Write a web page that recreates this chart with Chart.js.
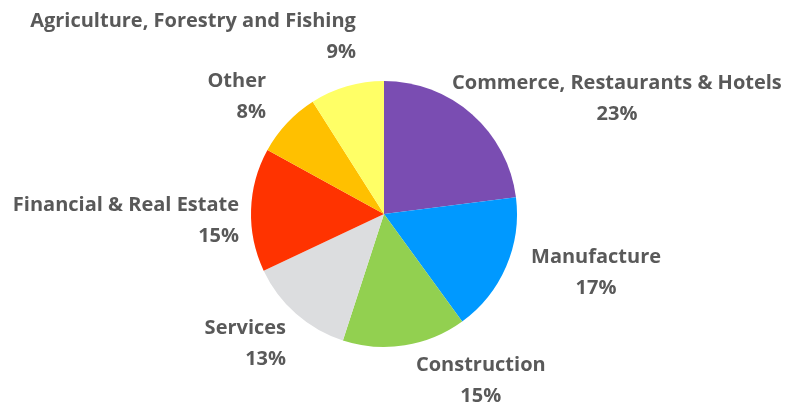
<!DOCTYPE html>
<html>
<head>
<meta charset="utf-8">
<script src="https://cdn.jsdelivr.net/npm/chart.js@4"></script>
<style>
  html, body { margin: 0; padding: 0; background: #fff; }
  #myChart { display: block; }
</style>
</head>
<body>
<canvas id="myChart" width="786" height="405"></canvas>
<script>
var categories = ['Commerce, Restaurants & Hotels', 'Manufacture', 'Construction', 'Services',
                  'Financial & Real Estate', 'Other', 'Agriculture, Forestry and Fishing'];
var shares = [23, 17, 15, 13, 15, 8, 9];
var colors = ['#7A4DB2', '#0099FF', '#92D050', '#DCDDDF', '#FF3300', '#FFC000', '#FFFF66'];

// label placement relative to the outer middle point of each slice
var labelOffsets = [[145, -25], [90, -4], [76, 26], [-10, 20], [-12, 1], [-21, -36], [9, -59]];

var outsideLabels = {
    id: 'outsideLabels',
    afterDraw: function (chart) {
        var ctx = chart.ctx;
        var meta = chart.getDatasetMeta(0);
        var data = chart.data.datasets[0].data;
        var total = data.reduce(function (a, b) { return a + b; }, 0);
        ctx.save();
        ctx.fillStyle = '#595959';
        ctx.font = 'bold 20px "Open Sans"';
        ctx.textBaseline = 'alphabetic';
        meta.data.forEach(function (arc, i) {
            var mid = (arc.startAngle + arc.endAngle) / 2;
            var px = arc.x + Math.cos(mid) * arc.outerRadius;
            var py = arc.y + Math.sin(mid) * arc.outerRadius;
            var x = px + labelOffsets[i][0];
            var y = py + labelOffsets[i][1];
            // left half of the pie gets right-aligned labels
            var deg = (mid + Math.PI / 2) * 180 / Math.PI;
            ctx.textAlign = deg > 180 ? 'right' : 'center';
            ctx.fillText(chart.data.labels[i], x, y);
            ctx.fillText(Math.round(data[i] / total * 100) + '%', x, y + 31);
        });
        ctx.restore();
    }
};

var ctx = document.getElementById('myChart').getContext('2d');
var myChart = new Chart(ctx, {
    type: 'pie',
    data: {
        labels: categories,
        datasets: [{
            data: shares,
            backgroundColor: colors,
            borderWidth: 0
        }]
    },
    options: {
        responsive: false,
        animation: false,
        layout: {
            padding: { top: 81, bottom: 58, left: 251, right: 269 }
        },
        plugins: {
            legend: { display: false },
            tooltip: { enabled: false }
        }
    },
    plugins: [outsideLabels]
});
</script>
</body>
</html>
